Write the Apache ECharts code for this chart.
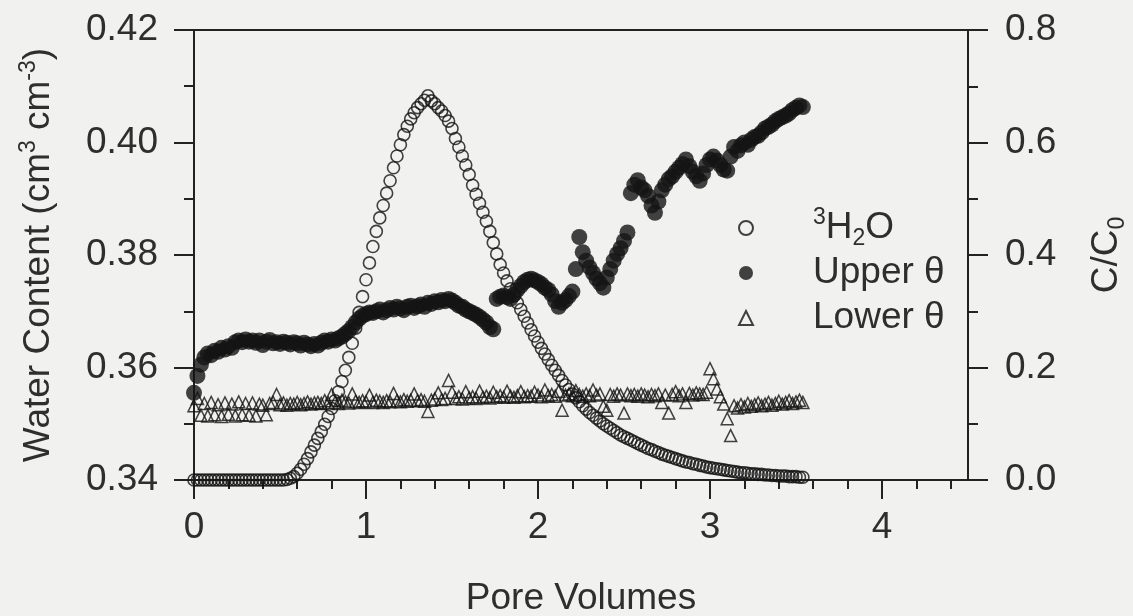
<!DOCTYPE html>
<html>
<head>
<meta charset="utf-8">
<script src="https://cdn.jsdelivr.net/npm/echarts@6/dist/echarts.min.js"></script>
<style>
  html, body { margin: 0; padding: 0; background: #f1f1ef; }
  #chart { width: 1133px; height: 616px; }
</style>
</head>
<body>
<div id="chart"></div>
<script>
// pore volumes at which the column was sampled
const poreVolumes = [
  0, 0.02, 0.04, 0.06, 0.08, 0.1, 0.12, 0.14, 0.16, 0.18,
  0.2, 0.22, 0.24, 0.26, 0.28, 0.3, 0.32, 0.34, 0.36, 0.38,
  0.4, 0.42, 0.44, 0.46, 0.48, 0.5, 0.52, 0.54, 0.56, 0.58,
  0.6, 0.62, 0.64, 0.66, 0.68, 0.7, 0.72, 0.74, 0.76, 0.78,
  0.8, 0.82, 0.84, 0.86, 0.88, 0.9, 0.92, 0.94, 0.96, 0.98,
  1, 1.02, 1.04, 1.06, 1.08, 1.1, 1.12, 1.14, 1.16, 1.18,
  1.2, 1.22, 1.24, 1.26, 1.28, 1.3, 1.32, 1.34, 1.36, 1.38,
  1.4, 1.42, 1.44, 1.46, 1.48, 1.5, 1.52, 1.54, 1.56, 1.58,
  1.6, 1.62, 1.64, 1.66, 1.68, 1.7, 1.72, 1.74, 1.76, 1.78,
  1.8, 1.82, 1.84, 1.86, 1.88, 1.9, 1.92, 1.94, 1.96, 1.98,
  2, 2.02, 2.04, 2.06, 2.08, 2.1, 2.12, 2.14, 2.16, 2.18,
  2.2, 2.22, 2.24, 2.26, 2.28, 2.3, 2.32, 2.34, 2.36, 2.38,
  2.4, 2.42, 2.44, 2.46, 2.48, 2.5, 2.52, 2.54, 2.56, 2.58,
  2.6, 2.62, 2.64, 2.66, 2.68, 2.7, 2.72, 2.74, 2.76, 2.78,
  2.8, 2.82, 2.84, 2.86, 2.88, 2.9, 2.92, 2.94, 2.96, 2.98,
  3, 3.02, 3.04, 3.06, 3.08, 3.1, 3.12, 3.14, 3.16, 3.18,
  3.2, 3.22, 3.24, 3.26, 3.28, 3.3, 3.32, 3.34, 3.36, 3.38,
  3.4, 3.42, 3.44, 3.46, 3.48, 3.5, 3.52, 3.54
]

// 3H2O breakthrough, C/C0 (right axis)
const tritium = [
  0, 0, 0, 0, 0, 0, 0, 0, 0, 0,
  0, 0, 0, 0, 0, 0, 0, 0, 0, 0,
  0, 0, 0, 0, 0, 0, 0, 0.001, 0.003, 0.006,
  0.012, 0.019, 0.028, 0.038, 0.05, 0.062, 0.074, 0.086, 0.099, 0.113,
  0.127, 0.141, 0.157, 0.175, 0.195, 0.218, 0.243, 0.27, 0.298, 0.326,
  0.356, 0.386, 0.415, 0.442, 0.466, 0.488, 0.51, 0.532, 0.555, 0.576,
  0.596, 0.614, 0.629, 0.642, 0.653, 0.662, 0.669, 0.675, 0.683, 0.674,
  0.669, 0.662, 0.656, 0.648, 0.638, 0.625, 0.607, 0.592, 0.576, 0.56,
  0.543, 0.524, 0.508, 0.492, 0.476, 0.46, 0.442, 0.422, 0.402, 0.383,
  0.368, 0.354, 0.34, 0.327, 0.315, 0.303, 0.291, 0.279, 0.267, 0.256,
  0.245, 0.234, 0.224, 0.214, 0.204, 0.195, 0.186, 0.177, 0.169, 0.161,
  0.153, 0.146, 0.139, 0.132, 0.126, 0.12, 0.115, 0.11, 0.105, 0.1,
  0.096, 0.092, 0.088, 0.084, 0.08, 0.077, 0.074, 0.071, 0.068, 0.065,
  0.062, 0.059, 0.056, 0.054, 0.051, 0.049, 0.046, 0.044, 0.042, 0.04,
  0.038, 0.036, 0.034, 0.032, 0.031, 0.029, 0.028, 0.026, 0.025, 0.023,
  0.022, 0.021, 0.02, 0.019, 0.018, 0.017, 0.016, 0.015, 0.014, 0.013,
  0.013, 0.012, 0.011, 0.011, 0.01, 0.01, 0.009, 0.009, 0.008, 0.008,
  0.007, 0.007, 0.007, 0.006, 0.006, 0.006, 0.005, 0.005
]

// upper probe water content (left axis)
const upperTheta = [
  0.3555, 0.3585, 0.3605, 0.3618, 0.3625, 0.3622, 0.363, 0.3628, 0.3635, 0.3632,
  0.3638, 0.3635, 0.3645, 0.3648, 0.3645, 0.365, 0.3646, 0.3648, 0.3644, 0.3648,
  0.364, 0.3646, 0.3649, 0.3643, 0.3645, 0.3642, 0.3646, 0.3644, 0.3641, 0.3645,
  0.3643, 0.3639, 0.3644, 0.3641, 0.3638, 0.3642, 0.3639, 0.3644, 0.3648, 0.3646,
  0.365, 0.3648, 0.3652, 0.3655, 0.366, 0.3665, 0.3672, 0.368, 0.3687, 0.3692,
  0.3695, 0.3698, 0.3697, 0.37, 0.3703, 0.3698, 0.3702, 0.3706, 0.3703, 0.3708,
  0.3705, 0.3702, 0.3708, 0.371, 0.3706, 0.3709, 0.3712, 0.3708, 0.3715, 0.3713,
  0.3718, 0.3716, 0.372, 0.3718, 0.3722, 0.3719, 0.3715, 0.371, 0.3708, 0.3703,
  0.37, 0.3697, 0.3694, 0.369, 0.3685, 0.368, 0.3672, 0.3668, 0.3722, 0.3726,
  0.3728, 0.3725, 0.3722, 0.373, 0.3738, 0.3745, 0.3752, 0.3756, 0.3758, 0.3755,
  0.3752, 0.3748, 0.3742, 0.3738, 0.373, 0.3718, 0.3708, 0.3715, 0.372, 0.3727,
  0.3735, 0.3775, 0.3832, 0.3805, 0.379, 0.3778, 0.3768, 0.3758, 0.375, 0.3742,
  0.376, 0.3775, 0.379, 0.3802, 0.3812, 0.3825, 0.384, 0.391, 0.3925, 0.3933,
  0.392, 0.3915, 0.3905, 0.3888, 0.3875, 0.3895, 0.3915, 0.3925, 0.3935, 0.394,
  0.3948, 0.3955, 0.3962, 0.397, 0.3958, 0.3948, 0.394, 0.3932, 0.3945, 0.396,
  0.397, 0.3975, 0.3968, 0.396, 0.3952, 0.395, 0.3975, 0.3992, 0.3985, 0.3995,
  0.4, 0.3996, 0.4005, 0.401, 0.4012, 0.4018, 0.4025, 0.4028, 0.4032, 0.4038,
  0.4042, 0.4045, 0.4048, 0.4052, 0.4058, 0.4062, 0.4066, 0.4063
]

// lower probe water content (left axis)
const lowerTheta = [
  0.3532, 0.3545, 0.3515, 0.3536, 0.3514, 0.3538, 0.3516, 0.3534, 0.3513, 0.3537,
  0.3517, 0.3535, 0.3514, 0.3539, 0.3516, 0.3536, 0.3515, 0.3537, 0.3514, 0.3535,
  0.3533, 0.3516, 0.3536, 0.3538, 0.3552, 0.3534, 0.3537, 0.3533, 0.3536, 0.3535,
  0.3538, 0.3534, 0.3536, 0.3539, 0.3535, 0.3537, 0.3538, 0.3536, 0.3541, 0.3537,
  0.3552, 0.3538, 0.3536, 0.3542, 0.3539, 0.3537, 0.3553, 0.354, 0.3538, 0.3541,
  0.3539, 0.3551, 0.3538, 0.3542, 0.354, 0.3538, 0.3541, 0.3539, 0.3554, 0.3541,
  0.3539, 0.3543, 0.354, 0.3542, 0.3553, 0.3541, 0.3543, 0.354, 0.3522, 0.3542,
  0.3544, 0.3555, 0.3543, 0.3545, 0.3577, 0.3556, 0.3545, 0.3548, 0.3544, 0.3557,
  0.3546, 0.3548, 0.3545, 0.3558, 0.3547, 0.3549, 0.3546, 0.3556, 0.3548, 0.355,
  0.3547, 0.3558, 0.3549, 0.3547, 0.355, 0.3557, 0.3548, 0.355, 0.3549, 0.3556,
  0.3551, 0.3548, 0.356, 0.355, 0.3552, 0.3549, 0.3558, 0.3524, 0.3551, 0.3553,
  0.355, 0.3559, 0.3552, 0.3549, 0.3553, 0.355, 0.356, 0.3551, 0.3553, 0.3531,
  0.3524, 0.3552, 0.3549, 0.3553, 0.3551, 0.3519, 0.3553, 0.355, 0.3552, 0.3549,
  0.3553, 0.3551, 0.3548, 0.3552, 0.355, 0.3553, 0.3538, 0.3551, 0.3519, 0.3552,
  0.3557, 0.355, 0.3553, 0.3538, 0.3554, 0.3551, 0.3555, 0.3553, 0.3552, 0.3556,
  0.3598, 0.358, 0.3562, 0.3548, 0.3535, 0.3509, 0.3479, 0.3532, 0.3528, 0.3534,
  0.353, 0.3536, 0.3531, 0.3534, 0.3537, 0.3532, 0.3535, 0.3538, 0.3533, 0.3536,
  0.354, 0.3535, 0.3538, 0.3541, 0.3536, 0.3539, 0.3542, 0.3538
]

// x axis ticks
const xMajorTicks = [0, 1, 2, 3, 4]
const xMinorTicks = [0.2, 0.4, 0.6, 0.8, 1.2, 1.4, 1.6, 1.8, 2.2, 2.4, 2.6, 2.8, 3.2, 3.4, 3.6, 3.8, 4.2, 4.4]

const ink = '#141414'
const axisInk = '#222'
const textColor = '#2e2e2e'
const font = '"Liberation Sans", Arial, sans-serif'
const fontSize = 37

const toPairs = (ys) => poreVolumes.map((x, i) => [x, ys[i]])

const rich = {
  sup: { fontSize: 23, fontFamily: font, color: textColor, verticalAlign: 'top', lineHeight: 22 },
  sub: { fontSize: 23, fontFamily: font, color: textColor, verticalAlign: 'bottom', lineHeight: 22 }
}

const lineStyle = { color: axisInk, width: 2 }

const chart = echarts.init(document.getElementById('chart'))

chart.setOption({
  backgroundColor: '#f1f1ef',
  animation: false,
  textStyle: { fontFamily: font },
  grid: {
    left: 194, right: 165, top: 30, bottom: 136,
    outerBoundsMode: 'none',
    containLabel: false,
    show: true, borderColor: axisInk, borderWidth: 2, backgroundColor: 'transparent'
  },
  legend: {
    data: ['3H2O', 'Upper θ', 'Lower θ'],
    orient: 'vertical',
    left: 738,
    top: 206,
    padding: 0,
    itemWidth: 14,
    itemHeight: 14,
    itemGap: 1,
    formatter: (name) => name === '3H2O' ? '{sup|3}H{sub|2}O' : name,
    textStyle: {
      fontSize: fontSize, fontFamily: font, color: textColor, lineHeight: 44,
      padding: [0, 0, 0, 55], rich: rich
    }
  },
  xAxis: [
    {
      type: 'value', min: 0, max: 4.5, position: 'bottom',
      axisLine: { onZero: false, lineStyle: lineStyle },
      splitLine: { show: false },
      axisTick: { customValues: xMajorTicks, length: 19, lineStyle: lineStyle },
      axisLabel: { customValues: xMajorTicks, fontSize: fontSize, color: textColor, margin: 29, fontFamily: font },
      name: 'Pore Volumes', nameLocation: 'middle', nameGap: 100,
      nameTextStyle: { fontSize: fontSize, color: textColor, fontFamily: font }
    },
    {
      type: 'value', min: 0, max: 4.5, position: 'bottom',
      axisLine: { show: false, onZero: false },
      splitLine: { show: false },
      axisLabel: { show: false },
      axisTick: { customValues: xMinorTicks, length: 9, lineStyle: lineStyle }
    }
  ],
  yAxis: [
    {
      type: 'value', min: 0.34, max: 0.42, interval: 0.02, position: 'left',
      axisLine: { show: true, onZero: false, lineStyle: lineStyle },
      axisTick: { show: true, length: 20, lineStyle: lineStyle },
      minorTick: { show: true, splitNumber: 2, length: 10, lineStyle: lineStyle },
      splitLine: { show: false },
      minorSplitLine: { show: false },
      axisLabel: { fontSize: fontSize, color: textColor, margin: 36, fontFamily: font, formatter: (v) => v.toFixed(2) },
      name: 'Water Content (cm{sup|3} cm{sup|-3})', nameLocation: 'middle', nameGap: 133,
      nameTextStyle: { fontSize: fontSize, color: textColor, fontFamily: font, lineHeight: 44, rich: rich }
    },
    {
      type: 'value', min: 0, max: 0.8, interval: 0.2, position: 'right',
      axisLine: { show: true, onZero: false, lineStyle: lineStyle },
      axisTick: { show: true, length: 20, lineStyle: lineStyle },
      minorTick: { show: true, splitNumber: 2, length: 10, lineStyle: lineStyle },
      splitLine: { show: false },
      minorSplitLine: { show: false },
      axisLabel: { fontSize: fontSize, color: textColor, margin: 37, fontFamily: font, formatter: (v) => v.toFixed(1) },
      name: 'C/C{sub|0}', nameLocation: 'middle', nameGap: 117,
      nameTextStyle: { fontSize: fontSize, color: textColor, fontFamily: font, lineHeight: 44, rich: rich }
    }
  ],
  series: [
    {
      name: 'Upper θ', type: 'scatter', xAxisIndex: 0, yAxisIndex: 0,
      symbol: 'circle', symbolSize: 16,
      itemStyle: { color: ink },
      data: toPairs(upperTheta)
    },
    {
      name: 'Lower θ', type: 'scatter', xAxisIndex: 0, yAxisIndex: 0,
      symbol: 'triangle', symbolSize: 12, symbolKeepAspect: true,
      itemStyle: { color: 'rgba(0,0,0,0)', borderColor: ink, borderWidth: 1.5 },
      data: toPairs(lowerTheta)
    },
    {
      name: '3H2O', type: 'scatter', xAxisIndex: 0, yAxisIndex: 1,
      symbol: 'circle', symbolSize: 12,
      itemStyle: { color: 'rgba(0,0,0,0)', borderColor: ink, borderWidth: 1.6 },
      data: toPairs(tritium)
    }
  ]
})
</script>
</body>
</html>
